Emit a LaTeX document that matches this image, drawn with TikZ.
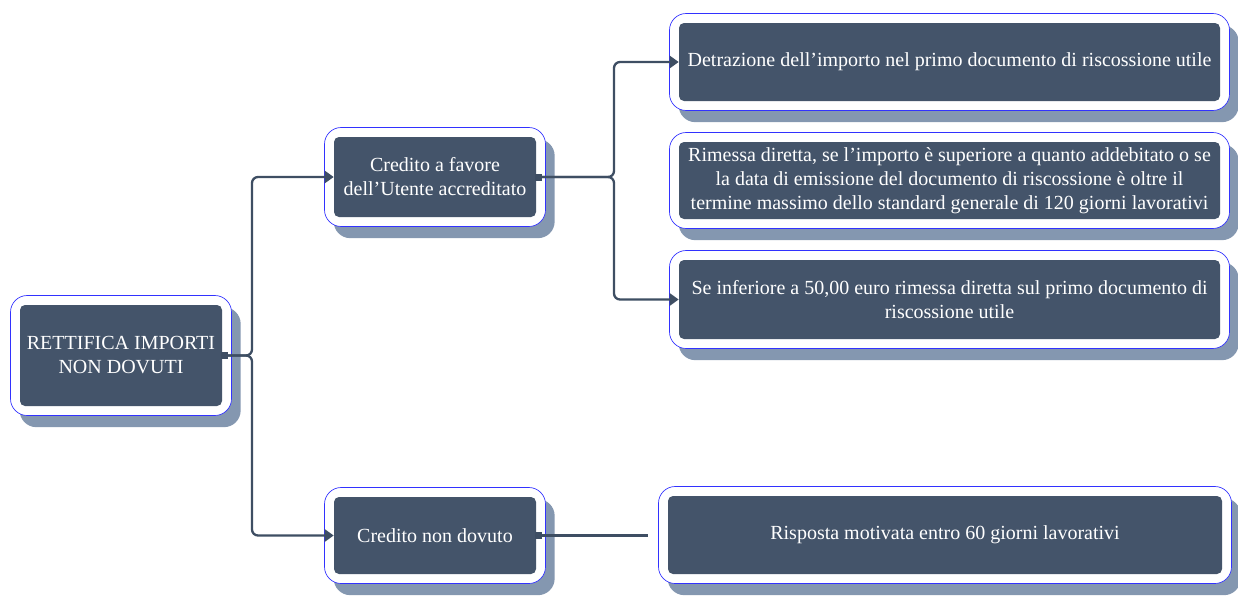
\documentclass[tikz,border=0pt]{standalone}
\usepackage{fontspec}
\setmainfont{Liberation Serif}
\usetikzlibrary{arrows.meta,fit,backgrounds,shadows}
\definecolor{boxdark}{RGB}{68,84,106}
\definecolor{boxshade}{RGB}{132,151,176}
\definecolor{linedark}{RGB}{62,78,99}
\definecolor{edgeblue}{RGB}{50,50,255}
\begin{document}
\begin{tikzpicture}[x=0.6pt,y=-0.6pt,
  every node/.style={font=\fontsize{12pt}{14.4pt}\selectfont},
  itembox/.style={fill=boxdark,text=white,rounded corners=3pt,align=center,inner sep=2pt},
  framebox/.style={fill=white,draw=edgeblue,line width=0.4pt,rounded corners=10pt,inner sep=5.5pt,
    drop shadow={shadow xshift=5.5pt,shadow yshift=-7pt,fill=boxshade,opacity=1}},
  handle/.style={fill=linedark,minimum size=4.2pt,inner sep=0pt},
  conn/.style={draw=linedark,line width=1.4pt,rounded corners=3.6pt},
  arr/.style={-{Triangle[length=5.5pt,width=7.5pt]}}]
\useasboundingbox (0,0) rectangle (1238,595);
% boxes
\node[itembox,minimum width=121.2pt,minimum height=60.6pt] (root) at (121,355.5) {RETTIFICA IMPORTI\\NON DOVUTI};
\node[itembox,minimum width=121.2pt,minimum height=48pt] (cred) at (435,177) {Credito a favore\\dell’Utente accreditato};
\node[itembox,minimum width=121.2pt,minimum height=46.2pt] (credN) at (435,535.5) {Credito non dovuto};
\node[itembox,minimum width=324.6pt,minimum height=46.8pt] (detr) at (949.5,62) {Detrazione dell’importo nel primo documento di riscossione utile};
\node[itembox,minimum width=324.6pt,minimum height=46.2pt] (rim) at (949.5,180.5) {Rimessa diretta, se l’importo è superiore a quanto addebitato o se\\la data di emissione del documento di riscossione è oltre il\\termine massimo dello standard generale di 120 giorni lavorativi};
\node[itembox,minimum width=324.6pt,minimum height=47.4pt] (inf) at (949.5,299.5) {Se inferiore a 50,00 euro rimessa diretta sul primo documento di\\riscossione utile};
\node[itembox,minimum width=332.4pt,minimum height=46.8pt] (risp) at (945,535) {Risposta motivata entro 60 giorni lavorativi};
\begin{scope}[on background layer]
\foreach \n in {root,cred,credN,detr,rim,inf,risp}
  \node[framebox,fit=(\n)] {};
\end{scope}
% handles
\node[handle,xshift=1pt] (rootH) at (root.east) {};
\node[handle,xshift=1pt] (credH) at (cred.east) {};
\node[handle,xshift=1pt] (credNH) at (credN.east) {};
\path (rootH) ++(28,0) coordinate (rootJ);
\path (credH) ++(76,0) coordinate (credJ);
\path (credNH) ++(110,0) coordinate (rispEnd);
% connectors
\draw[conn,arr] (rootH) -- (rootJ) |- (cred.west);
\draw[conn,arr] (rootH) -- (rootJ) |- (credN.west);
\draw[conn,arr] (credH) -- (credJ) |- (detr.west);
\draw[conn,arr] (credH) -- (credJ) |- (inf.west);
\draw[conn] (credNH) -- (rispEnd);
\end{tikzpicture}
\end{document}
